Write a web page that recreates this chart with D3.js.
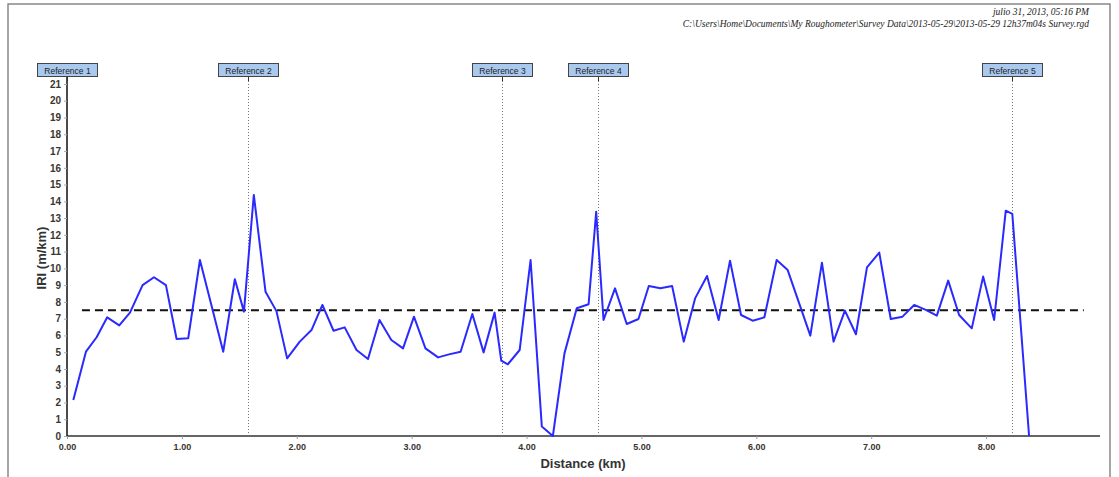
<!DOCTYPE html>
<html>
<head>
<meta charset="utf-8">
<script src="https://cdn.jsdelivr.net/npm/d3@7"></script>
<style>
  body { margin: 0; background: #fff; }
  svg { display: block; }
</style>
</head>
<body>
<div id="container"></div>
<script>
let w = 1119;
let h = 477;

// data
let distance = [0.055, 0.165, 0.258, 0.35, 0.455, 0.548, 0.658, 0.757, 0.861, 0.954,
  1.055, 1.157, 1.36, 1.461, 1.54, 1.626, 1.728, 1.823, 1.916, 2.026,
  2.128, 2.223, 2.32, 2.417, 2.52, 2.62, 2.72, 2.823, 2.925, 3.02,
  3.12, 3.23, 3.325, 3.426, 3.528, 3.626, 3.722, 3.78, 3.837, 3.94,
  4.035, 4.133, 4.229, 4.33, 4.437, 4.54, 4.606, 4.67, 4.77, 4.872,
  4.974, 5.064, 5.165, 5.267, 5.368, 5.467, 5.571, 5.672, 5.771, 5.867,
  5.968, 6.07, 6.177, 6.273, 6.47, 6.571, 6.672, 6.771, 6.867, 6.963,
  7.07, 7.17, 7.272, 7.374, 7.475, 7.571, 7.67, 7.765, 7.875, 7.974,
  8.07, 8.171, 8.228, 8.374];
let iri = [2.15, 5.03, 5.89, 7.08, 6.6, 7.36, 9.0, 9.47, 9.0, 5.79,
  5.83, 10.5, 5.03, 9.35, 7.42, 14.38, 8.6, 7.45, 4.63, 5.63,
  6.32, 7.82, 6.28, 6.48, 5.13, 4.59, 6.92, 5.73, 5.23, 7.12,
  5.23, 4.69, 4.87, 5.03, 7.28, 4.99, 7.36, 4.49, 4.28, 5.13,
  10.5, 0.56, 0.0, 4.93, 7.62, 7.86, 13.38, 6.92, 8.81, 6.68,
  6.98, 8.95, 8.81, 8.95, 5.63, 8.21, 9.55, 6.92, 10.46, 7.22,
  6.88, 7.08, 10.5, 9.9, 5.99, 10.34, 5.63, 7.48, 6.07, 10.06,
  10.94, 6.98, 7.12, 7.82, 7.52, 7.18, 9.27, 7.22, 6.42, 9.51,
  6.92, 13.44, 13.25, 0.0];

let refNames = ["Reference 1", "Reference 2", "Reference 3", "Reference 4", "Reference 5"];
let refDistance = [0.0, 1.574, 3.79, 4.626, 8.226];

let meanIri = 7.5;
let meanFrom = 0.13;
let meanTo = 8.85;

let xTicks = [0, 1, 2, 3, 4, 5, 6, 7, 8];
let yTicks = d3.range(0, 22);

let headerDate = "julio 31, 2013, 05:16 PM";
let headerPath = "C:\\Users\\Home\\Documents\\My Roughometer\\Survey Data\\2013-05-29\\2013-05-29 12h37m04s Survey.rgd";

let viz = d3.select("#container")
  .append("svg")
    .attr("width", w)
    .attr("height", h)
;

// page frame
viz.append("rect")
  .attr("x", 8).attr("y", 4)
  .attr("width", 1102).attr("height", 480)
  .attr("fill", "none")
  .attr("stroke", "#888")
  .attr("stroke-width", 1.5);

// header
viz.append("text")
  .text(headerDate)
  .attr("x", 1089).attr("y", 15)
  .attr("text-anchor", "end")
  .attr("font-family", "Liberation Serif")
  .attr("font-style", "italic")
  .attr("font-size", 9.5)
  .attr("fill", "#222");
viz.append("text")
  .text(headerPath)
  .attr("x", 1089).attr("y", 27)
  .attr("text-anchor", "end")
  .attr("font-family", "Liberation Serif")
  .attr("font-style", "italic")
  .attr("font-size", 9.5)
  .attr("fill", "#222");

let xScale = d3.scaleLinear().domain([0, 9]).range([67, 1101]);
let yScale = d3.scaleLinear().domain([0, 21]).range([436, 84]);

// x axis
let xAxis = d3.axisBottom(xScale)
  .tickValues(xTicks)
  .tickFormat(d3.format(".2f"))
  .tickSize(3)
  .tickPadding(5);
let xAxisGroup = viz.append("g").attr("class", "xaxis")
  .attr("transform", "translate(0, " + yScale(0) + ")")
  .call(xAxis);
xAxisGroup.select(".domain")
  .attr("d", "M67,0H1100")
  .attr("stroke", "#666")
  .attr("stroke-width", 2);
xAxisGroup.selectAll(".tick line").attr("stroke", "#999");
xAxisGroup.selectAll(".tick text")
  .attr("font-family", "Liberation Sans")
  .attr("font-weight", "bold")
  .attr("font-size", 9)
  .attr("fill", "#3a3530");

// y axis
let yAxis = d3.axisLeft(yScale)
  .tickValues(yTicks)
  .tickSize(3)
  .tickPadding(3);
let yAxisGroup = viz.append("g").attr("class", "yaxis")
  .attr("transform", "translate(" + xScale(0) + ", 0)")
  .call(yAxis);
yAxisGroup.select(".domain")
  .attr("d", "M0,77V436")
  .attr("stroke", "#111")
  .attr("stroke-width", 1.5);
yAxisGroup.selectAll(".tick line").attr("stroke", "#aaa");
yAxisGroup.selectAll(".tick text")
  .attr("font-family", "Liberation Sans")
  .attr("font-weight", "bold")
  .attr("font-size", 10)
  .attr("fill", "#3a3530");

// axis titles
viz.append("text")
  .text("Distance (km)")
  .attr("x", 583).attr("y", 468)
  .attr("text-anchor", "middle")
  .attr("font-family", "Liberation Sans")
  .attr("font-weight", "bold")
  .attr("font-size", 13)
  .attr("fill", "#333");
viz.append("text")
  .text("IRI (m/km)")
  .attr("transform", "translate(46, 258) rotate(-90)")
  .attr("text-anchor", "middle")
  .attr("font-family", "Liberation Sans")
  .attr("font-weight", "bold")
  .attr("font-size", 13)
  .attr("fill", "#333");

// reference markers
let refs = refNames.map(function(name, i){ return {name: name, d: refDistance[i]}; });
let refGroups = viz.selectAll(".ref").data(refs).enter()
  .append("g")
    .attr("class", "ref")
    .attr("transform", function(d){ return "translate(" + Math.round(xScale(d.d)) + ", 0)"; });

refGroups.filter(function(d, i){ return i > 0; })
  .append("line")
    .attr("x1", 0.5).attr("x2", 0.5)
    .attr("y1", 78).attr("y2", 436)
    .attr("stroke", "#777")
    .attr("stroke-width", 1)
    .attr("stroke-dasharray", "1,2");
refGroups.append("line")
    .attr("x1", 0.5).attr("x2", 0.5)
    .attr("y1", 77).attr("y2", 81)
    .attr("stroke", "#333");
refGroups.append("rect")
    .attr("x", -29.5).attr("y", 63.5)
    .attr("width", 60).attr("height", 13)
    .attr("fill", "#a9c9ee")
    .attr("stroke", "#444")
    .attr("stroke-width", 1);
refGroups.append("text")
    .text(function(d){ return d.name; })
    .attr("x", 0.5).attr("y", 73.5)
    .attr("text-anchor", "middle")
    .attr("font-family", "Liberation Sans")
    .attr("font-size", 8.5)
    .attr("fill", "#222");

// mean line
viz.append("line")
  .attr("x1", xScale(meanFrom)).attr("x2", xScale(meanTo))
  .attr("y1", yScale(meanIri)).attr("y2", yScale(meanIri))
  .attr("stroke", "#111")
  .attr("stroke-width", 2)
  .attr("stroke-dasharray", "8,5");

// IRI profile
let points = distance.map(function(d, i){ return [d, iri[i]]; });
let line = d3.line()
  .x(function(d){ return xScale(d[0]); })
  .y(function(d){ return yScale(d[1]); });
viz.append("path")
  .datum(points)
  .attr("d", line)
  .attr("fill", "none")
  .attr("stroke", "#2a2aff")
  .attr("stroke-width", 2)
  .attr("stroke-linejoin", "round");
</script>
</body>
</html>
